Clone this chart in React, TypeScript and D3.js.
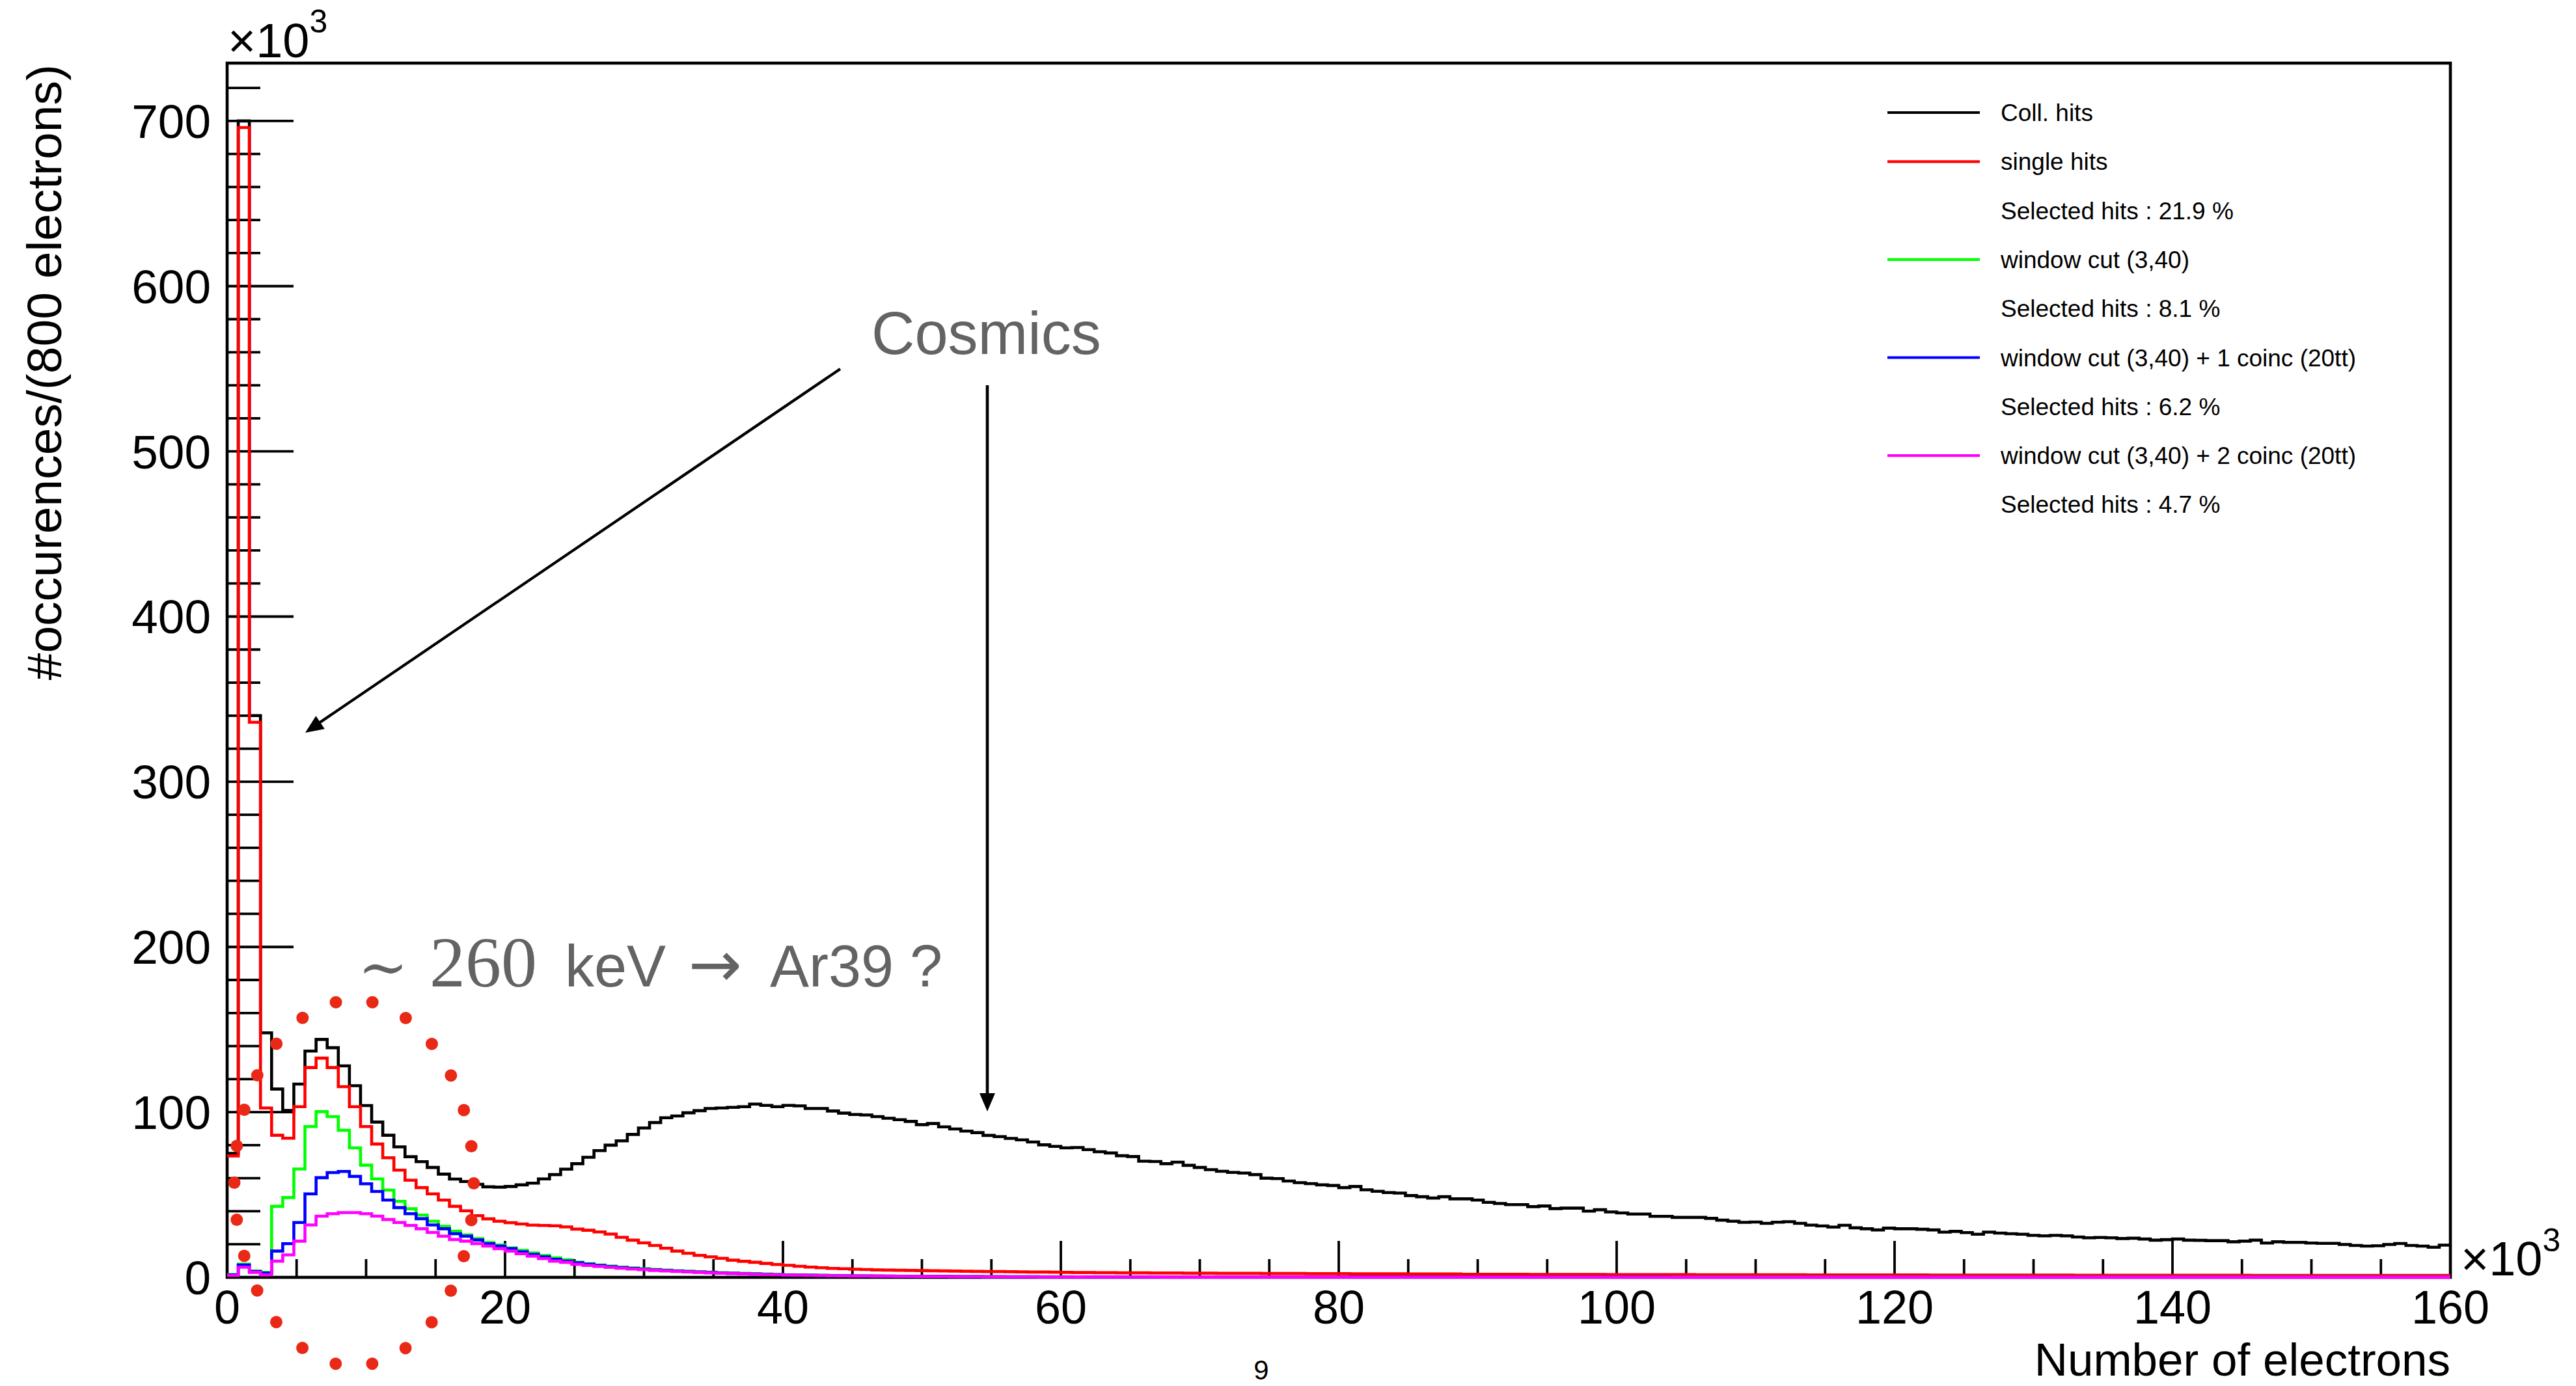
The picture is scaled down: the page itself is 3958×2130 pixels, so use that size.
import React from 'react';
import * as d3 from 'd3';

// ---------------- data (bin width 0.8 ×10³ electrons, 200 bins from 0 to 160 ×10³) ----------------
const BIN_WIDTH = 0.8;
const X_MAX = 160;
const Y_MAX = 735;

const collHits = [
  75, 700, 340, 148, 114, 101, 117, 137, 144, 139, 128, 116, 104, 94, 86, 79, 73, 70, 66.5, 62.5,
  59.5, 58, 56.3, 54.8, 54.6, 55, 56, 57, 59.6, 62.2, 65.5, 68.8, 72.7, 76.7, 80, 82.6, 86.5, 90.4, 93.7, 96.6,
  97.7, 99.6, 100.9, 102.2, 102.5, 102.9, 103.3, 104.9, 104.1, 103.3, 104.1, 103.8, 102.2, 102.2, 100.7, 99.4, 98.6, 98.3, 97.3, 96.3,
  95.4, 94.4, 92.4, 93.1, 91.1, 89.8, 88.5, 87.6, 85.9, 85.2, 84.1, 83.2, 81.9, 80.2, 79.3, 78.4, 78.6, 77.3, 76, 75.3,
  73.6, 73.1, 70.3, 70.1, 68.8, 69.7, 67.8, 66.5, 65.2, 64.2, 63.5, 63.1, 62.2, 60, 59.8, 58.3, 57.3, 56.7, 56, 55.6,
  54.3, 55, 53, 52.1, 51.3, 51, 49.5, 48.8, 48, 48.8, 47.5, 47.5, 46.8, 45.4, 44.7, 44, 44, 42.8, 43.2, 41.6,
  41.9, 41.9, 40.1, 40.9, 39.6, 39, 38.3, 38.3, 36.9, 36.9, 36.3, 36.3, 36.3, 35.7, 34.6, 34, 33.3, 33.5, 32.7, 33.4,
  33.7, 32.7, 31.6, 31.1, 30.4, 31.5, 30, 29.4, 28.7, 29.8, 29.4, 29.4, 29.1, 28.7, 27.4, 27.8, 27.1, 26.1, 27.4, 26.8,
  26.4, 26.1, 25.4, 25.1, 25.4, 25.1, 24.4, 23.9, 24.1, 23.9, 23.5, 23.7, 23.2, 22.5, 22.8, 23.2, 22.5, 22.4, 22.2, 22.2,
  21.5, 21.9, 22.5, 20.8, 21.5, 21.2, 21.2, 20.8, 20.6, 20.6, 19.9, 19.3, 18.9, 19.1, 19.9, 20.5, 19.3, 18.9, 18.2, 19.5,
];

const singleHits = [
  73.5, 696, 336, 102.5, 86, 84.2, 103.3, 127, 132.7, 127, 115.4, 103.3, 91.3, 80.7, 72.4, 64.9, 58.8, 54.3, 50.5, 46.8,
  43, 40.3, 37.3, 35.4, 34, 33.1, 32.3, 31.6, 31.4, 31.2, 30.5, 29.2, 28.5, 27.5, 26.2, 24.2, 22.5, 20.9, 19.3, 17.6,
  15.9, 14.6, 13.3, 12.4, 11.5, 10.4, 9.7, 9.1, 8.4, 7.8, 7.3, 6.7, 6.2, 5.8, 5.4, 5.2, 4.9, 4.7, 4.5, 4.4,
  4.3, 4.2, 4.1, 4.0, 3.9, 3.8, 3.7, 3.6, 3.5, 3.5, 3.4, 3.3, 3.2, 3.2, 3.1, 3.0, 2.9, 2.9, 2.8, 2.8,
  2.7, 2.7, 2.7, 2.6, 2.6, 2.6, 2.5, 2.5, 2.5, 2.4, 2.4, 2.4, 2.4, 2.3, 2.3, 2.3, 2.3, 2.2, 2.2, 2.2,
  2.2, 2.1, 2.1, 2.1, 2.1, 2.1, 2.0, 2.0, 2.0, 2.0, 2.0, 1.9, 1.9, 1.9, 1.9, 1.9, 1.9, 1.8, 1.8, 1.8,
  1.8, 1.8, 1.8, 1.8, 1.7, 1.7, 1.7, 1.7, 1.7, 1.7, 1.7, 1.7, 1.6, 1.6, 1.6, 1.6, 1.6, 1.6, 1.6, 1.6,
  1.6, 1.6, 1.5, 1.5, 1.5, 1.5, 1.5, 1.5, 1.5, 1.5, 1.5, 1.5, 1.5, 1.4, 1.4, 1.4, 1.4, 1.4, 1.4, 1.4,
  1.4, 1.4, 1.4, 1.4, 1.4, 1.4, 1.3, 1.3, 1.3, 1.3, 1.3, 1.3, 1.3, 1.3, 1.3, 1.3, 1.3, 1.3, 1.3, 1.3,
  1.3, 1.3, 1.2, 1.2, 1.2, 1.2, 1.2, 1.2, 1.2, 1.2, 1.2, 1.2, 1.2, 1.2, 1.2, 1.2, 1.2, 1.2, 1.2, 1.2,
];

const windowCut = [
  1.8, 8, 3.8, 3, 43, 48.3, 65.6, 91.3, 100.3, 97.3, 89, 78.4, 67.9, 59.6, 52.8, 46, 41.5, 37.7, 34, 30.9,
  27.9, 25.7, 23.4, 21.1, 19.6, 17.8, 16.3, 14.8, 13.3, 11.8, 10.6, 9.1, 8.3, 7.5, 6.8, 6.2, 5.7, 5.2, 4.8, 4.4,
  4.0, 3.7, 3.4, 3.1, 2.8, 2.6, 2.4, 2.2, 2.0, 1.8, 1.6, 1.5, 1.4, 1.3, 1.2, 1.1, 1.0, 0.9, 0.85, 0.8,
  0.75, 0.7, 0.65, 0.6, 0.6, 0.55, 0.5, 0.5, 0.45, 0.45, 0.4, 0.4, 0.4, 0.35, 0.35, 0.35, 0.3, 0.3, 0.3, 0.3,
  0.3, 0.3, 0.3, 0.3, 0.3, 0.25, 0.25, 0.25, 0.25, 0.25, 0.25, 0.25, 0.25, 0.25, 0.25, 0.2, 0.2, 0.2, 0.2, 0.2,
  0.2, 0.2, 0.2, 0.2, 0.2, 0.2, 0.2, 0.2, 0.2, 0.2, 0.2, 0.2, 0.2, 0.2, 0.2, 0.2, 0.2, 0.2, 0.2, 0.2,
  0.2, 0.2, 0.2, 0.2, 0.2, 0.2, 0.2, 0.2, 0.2, 0.2, 0.15, 0.15, 0.15, 0.15, 0.15, 0.15, 0.15, 0.15, 0.15, 0.15,
  0.15, 0.15, 0.15, 0.15, 0.15, 0.15, 0.15, 0.15, 0.15, 0.15, 0.15, 0.15, 0.15, 0.15, 0.15, 0.15, 0.15, 0.15, 0.15, 0.15,
  0.15, 0.15, 0.15, 0.15, 0.15, 0.15, 0.15, 0.15, 0.15, 0.15, 0.15, 0.15, 0.15, 0.15, 0.15, 0.15, 0.15, 0.15, 0.15, 0.15,
  0.15, 0.15, 0.15, 0.15, 0.15, 0.15, 0.15, 0.15, 0.15, 0.15, 0.15, 0.15, 0.15, 0.15, 0.15, 0.15, 0.15, 0.15, 0.15, 0.15,
];

const windowCoinc1 = [
  1.5, 7.5, 3.5, 2.5, 15.9, 20.4, 33.2, 50.5, 60.3, 63.4, 64.1, 61.1, 56.6, 52, 46.8, 42.2, 38.5, 35.5, 31.7, 29.4,
  26.4, 24.9, 22.6, 20.4, 18.9, 17.4, 15.4, 13.9, 12.4, 10.9, 9.8, 8.8, 8.0, 7.2, 6.5, 5.9, 5.4, 4.9, 4.5, 4.1,
  3.8, 3.5, 3.2, 2.9, 2.6, 2.4, 2.2, 2.0, 1.8, 1.7, 1.5, 1.4, 1.3, 1.2, 1.1, 1.0, 0.9, 0.85, 0.8, 0.75,
  0.7, 0.65, 0.6, 0.55, 0.55, 0.5, 0.45, 0.45, 0.4, 0.4, 0.35, 0.35, 0.35, 0.3, 0.3, 0.3, 0.3, 0.25, 0.25, 0.25,
  0.25, 0.25, 0.25, 0.25, 0.2, 0.2, 0.2, 0.2, 0.2, 0.2, 0.2, 0.2, 0.2, 0.2, 0.2, 0.2, 0.2, 0.2, 0.2, 0.2,
  0.15, 0.15, 0.15, 0.15, 0.15, 0.15, 0.15, 0.15, 0.15, 0.15, 0.15, 0.15, 0.15, 0.15, 0.15, 0.15, 0.15, 0.15, 0.15, 0.15,
  0.15, 0.15, 0.15, 0.15, 0.15, 0.15, 0.15, 0.15, 0.15, 0.15, 0.1, 0.1, 0.1, 0.1, 0.1, 0.1, 0.1, 0.1, 0.1, 0.1,
  0.1, 0.1, 0.1, 0.1, 0.1, 0.1, 0.1, 0.1, 0.1, 0.1, 0.1, 0.1, 0.1, 0.1, 0.1, 0.1, 0.1, 0.1, 0.1, 0.1,
  0.1, 0.1, 0.1, 0.1, 0.1, 0.1, 0.1, 0.1, 0.1, 0.1, 0.1, 0.1, 0.1, 0.1, 0.1, 0.1, 0.1, 0.1, 0.1, 0.1,
  0.1, 0.1, 0.1, 0.1, 0.1, 0.1, 0.1, 0.1, 0.1, 0.1, 0.1, 0.1, 0.1, 0.1, 0.1, 0.1, 0.1, 0.1, 0.1, 0.1,
];

const windowCoinc2 = [
  1.2, 6.1, 3.0, 1.5, 9.8, 13.6, 21.9, 31.7, 37, 38.5, 39.2, 39.2, 38.5, 37, 35, 33.2, 31.4, 29.4, 27.2, 24.9,
  22.9, 21.9, 20.4, 18.9, 17.4, 15.9, 14.3, 12.8, 11.3, 9.8, 9.1, 7.9, 7.2, 6.6, 6.0, 5.5, 5.0, 4.6, 4.2, 3.9,
  3.6, 3.3, 3.0, 2.7, 2.5, 2.3, 2.1, 1.9, 1.7, 1.6, 1.4, 1.3, 1.2, 1.1, 1.0, 0.9, 0.85, 0.8, 0.75, 0.7,
  0.65, 0.6, 0.55, 0.5, 0.5, 0.45, 0.4, 0.4, 0.35, 0.35, 0.3, 0.3, 0.3, 0.25, 0.25, 0.25, 0.25, 0.2, 0.2, 0.2,
  0.2, 0.2, 0.2, 0.2, 0.15, 0.15, 0.15, 0.15, 0.15, 0.15, 0.15, 0.15, 0.15, 0.15, 0.15, 0.15, 0.15, 0.15, 0.15, 0.15,
  0.1, 0.1, 0.1, 0.1, 0.1, 0.1, 0.1, 0.1, 0.1, 0.1, 0.1, 0.1, 0.1, 0.1, 0.1, 0.1, 0.1, 0.1, 0.1, 0.1,
  0.1, 0.1, 0.1, 0.1, 0.1, 0.1, 0.1, 0.1, 0.1, 0.1, 0.05, 0.05, 0.05, 0.05, 0.05, 0.05, 0.05, 0.05, 0.05, 0.05,
  0.05, 0.05, 0.05, 0.05, 0.05, 0.05, 0.05, 0.05, 0.05, 0.05, 0.05, 0.05, 0.05, 0.05, 0.05, 0.05, 0.05, 0.05, 0.05, 0.05,
  0.05, 0.05, 0.05, 0.05, 0.05, 0.05, 0.05, 0.05, 0.05, 0.05, 0.05, 0.05, 0.05, 0.05, 0.05, 0.05, 0.05, 0.05, 0.05, 0.05,
  0.05, 0.05, 0.05, 0.05, 0.05, 0.05, 0.05, 0.05, 0.05, 0.05, 0.05, 0.05, 0.05, 0.05, 0.05, 0.05, 0.05, 0.05, 0.05, 0.05,
];

const seriesNames = ['Coll. hits', 'single hits', 'window cut (3,40)', 'window cut (3,40) + 1 coinc (20tt)', 'window cut (3,40) + 2 coinc (20tt)'];
const seriesColors = ['#000000', '#ff0000', '#00ff00', '#0000ff', '#ff00ff'];
const seriesValues = [collHits, singleHits, windowCut, windowCoinc1, windowCoinc2];
const selectedFractions = [null, '21.9', '8.1', '6.2', '4.7'];

const xMajorTicks = [0, 20, 40, 60, 80, 100, 120, 140, 160];
const yMajorTicks = [0, 100, 200, 300, 400, 500, 600, 700];

// ---------------- layout ----------------
const W = 3958;
const H = 2130;
const PLOT = { left: 349, right: 3765, top: 97, bottom: 1963 };
const FONT = "'Liberation Sans', Arial, Helvetica, sans-serif";
const SERIF = "'Liberation Serif', 'Times New Roman', serif";
const GRAY = '#636363';
const DOT_RED = '#ea2816';

function arrowHead(x1: number, y1: number, x2: number, y2: number, len: number, half: number) {
  const a = Math.atan2(y2 - y1, x2 - x1);
  const bx = x2 - len * Math.cos(a);
  const by = y2 - len * Math.sin(a);
  const px = -Math.sin(a) * half;
  const py = Math.cos(a) * half;
  return `M${x2},${y2}L${bx + px},${by + py}L${bx - px},${by - py}Z`;
}

function ellipseDots(cx: number, cy: number, rx: number, ry: number, n: number) {
  const N = 4000;
  const pts: [number, number][] = [];
  const cum: number[] = [0];
  for (let i = 0; i <= N; i++) {
    const t = -Math.PI / 2 + (2 * Math.PI * i) / N;
    pts.push([cx + rx * Math.cos(t), cy + ry * Math.sin(t)]);
    if (i > 0) {
      const dx = pts[i][0] - pts[i - 1][0];
      const dy = pts[i][1] - pts[i - 1][1];
      cum.push(cum[i - 1] + Math.hypot(dx, dy));
    }
  }
  const L = cum[N];
  const out: [number, number][] = [];
  let j = 0;
  for (let k = 0; k < n; k++) {
    const s = ((k + 0.5) * L) / n;
    while (j < N && cum[j] < s) j++;
    out.push(pts[j]);
  }
  return out;
}

export default function App() {
  const x = d3.scaleLinear().domain([0, X_MAX]).range([PLOT.left, PLOT.right]);
  const y = d3.scaleLinear().domain([0, Y_MAX]).range([PLOT.bottom, PLOT.top]);

  const stepLine = d3
    .line<[number, number]>()
    .x((d) => x(d[0]))
    .y((d) => y(d[1]))
    .curve(d3.curveStepAfter);

  const histPaths = seriesValues.map((vals) => {
    const pts: [number, number][] = vals.map((v, i) => [i * BIN_WIDTH, v]);
    pts.push([vals.length * BIN_WIDTH, vals[vals.length - 1]]);
    return stepLine(pts) as string;
  });

  const yMinor = d3.range(0, Y_MAX, 20).filter((v) => v % 100 !== 0);
  const xMinor = d3.range(0, X_MAX + 0.01, 5).filter((v) => v % 20 !== 0);

  const yTickMajorLen = 102;
  const yTickMinorLen = 51;
  const xTickMajorLen = 56;
  const xTickMinorLen = 28;

  const legendRows: { label: string; color: string | null }[] = [];
  seriesNames.forEach((name, i) => {
    legendRows.push({ label: name, color: seriesColors[i] });
    if (selectedFractions[i]) legendRows.push({ label: `Selected hits : ${selectedFractions[i]} %`, color: null });
  });
  const legendY0 = 173;
  const legendStep = 75.3;

  const dots = ellipseDots(544, 1818, 184, 281, 26);

  const a1 = { x1: 1291, y1: 567, x2: 469, y2: 1126 };
  const a2 = { x1: 1517, y1: 592, x2: 1517, y2: 1708 };

  return (
    <svg
      width={W}
      height={H}
      viewBox={`0 0 ${W} ${H}`}
      style={{ position: 'absolute', left: 0, top: 0, display: 'block', background: '#fff' }}
    >
      <rect x={0} y={0} width={W} height={H} fill="#ffffff" />

      {/* ticks */}
      <g stroke="#000" strokeWidth={3.8}>
        {yMajorTicks.map((v) => (
          <line key={'ym' + v} x1={PLOT.left} x2={PLOT.left + yTickMajorLen} y1={y(v)} y2={y(v)} />
        ))}
        {yMinor.map((v) => (
          <line key={'yn' + v} x1={PLOT.left} x2={PLOT.left + yTickMinorLen} y1={y(v)} y2={y(v)} />
        ))}
        {xMajorTicks.map((v) => (
          <line key={'xm' + v} x1={x(v)} x2={x(v)} y1={PLOT.bottom} y2={PLOT.bottom - xTickMajorLen} />
        ))}
        {xMinor.map((v) => (
          <line key={'xn' + v} x1={x(v)} x2={x(v)} y1={PLOT.bottom} y2={PLOT.bottom - xTickMinorLen} />
        ))}
      </g>

      {/* frame */}
      <rect
        x={PLOT.left}
        y={PLOT.top}
        width={PLOT.right - PLOT.left}
        height={PLOT.bottom - PLOT.top}
        fill="none"
        stroke="#000"
        strokeWidth={4.6}
      />

      {/* histograms */}
      {histPaths.map((d, i) => (
        <path key={'h' + i} d={d} fill="none" stroke={seriesColors[i]} strokeWidth={4.6} strokeLinejoin="miter" />
      ))}

      {/* y tick labels */}
      <g fontFamily={FONT} fontSize={73} fill="#000" textAnchor="end">
        {yMajorTicks.map((v) => (
          <text key={'yl' + v} x={PLOT.left - 25} y={y(v) + 26}>
            {v}
          </text>
        ))}
      </g>
      {/* x tick labels */}
      <g fontFamily={FONT} fontSize={72} fill="#000" textAnchor="middle">
        {xMajorTicks.map((v) => (
          <text key={'xl' + v} x={x(v)} y={2034}>
            {v}
          </text>
        ))}
      </g>

      {/* exponent labels */}
      <text x={350} y={88} fontFamily={FONT} fontSize={74} fill="#000">
        ×10
        <tspan dy={-38} fontSize={50}>3</tspan>
      </text>
      <text x={3781} y={1960} fontFamily={FONT} fontSize={74} fill="#000">
        ×10
        <tspan dy={-37} fontSize={50}>3</tspan>
      </text>

      {/* axis titles */}
      <text x={PLOT.right} y={2114} fontFamily={FONT} fontSize={71} textAnchor="end" fill="#000">
        Number of electrons
      </text>
      <text
        transform={`translate(94, 99) rotate(-90)`}
        fontFamily={FONT}
        fontSize={75}
        textAnchor="end"
        fill="#000"
      >
        #occurences/(800 electrons)
      </text>

      {/* legend */}
      <g fontFamily={FONT} fontSize={37} fill="#000">
        {legendRows.map((r, i) => {
          const ly = legendY0 + i * legendStep;
          return (
            <g key={'lg' + i}>
              {r.color && <line x1={2900} x2={3042} y1={ly} y2={ly} stroke={r.color} strokeWidth={4.2} />}
              <text x={3074} y={ly + 13}>
                {r.label}
              </text>
            </g>
          );
        })}
      </g>

      {/* Cosmics annotation */}
      <text x={1339} y={544} fontFamily={FONT} fontSize={92} fill={GRAY}>
        Cosmics
      </text>
      <line x1={a1.x1} y1={a1.y1} x2={a1.x2 + 14} y2={a1.y2 - 10} stroke="#000" strokeWidth={4.2} />
      <path d={arrowHead(a1.x1, a1.y1, a1.x2, a1.y2, 28, 12)} fill="#000" />
      <line x1={a2.x1} y1={a2.y1} x2={a2.x2} y2={a2.y2 - 14} stroke="#000" strokeWidth={4.6} />
      <path d={arrowHead(a2.x1, a2.y1, a2.x2, a2.y2, 28, 12)} fill="#000" />

      {/* Ar39 annotation */}
      <g fill={GRAY}>
        <text x={550} y={1518} fontFamily="'DejaVu Serif', serif" fontSize={92}>
          ∼
        </text>
        <text x={660} y={1516} fontFamily={SERIF} fontSize={110}>
          260
        </text>
        <text x={868} y={1516} fontFamily={FONT} fontSize={90}>
          keV
        </text>
        <text x={1058} y={1516} fontFamily="'DejaVu Sans', sans-serif" fontSize={98}>
          →
        </text>
        <text x={1183} y={1516} fontFamily={FONT} fontSize={90}>
          Ar39 ?
        </text>
      </g>

      {/* dotted red ellipse */}
      <g fill={DOT_RED}>
        {dots.map((p, i) => (
          <circle key={'d' + i} cx={p[0]} cy={p[1]} r={9.5} />
        ))}
      </g>

      {/* page number */}
      <text x={1938} y={2120} fontFamily={FONT} fontSize={42} textAnchor="middle" fill="#000">
        9
      </text>
    </svg>
  );
}
